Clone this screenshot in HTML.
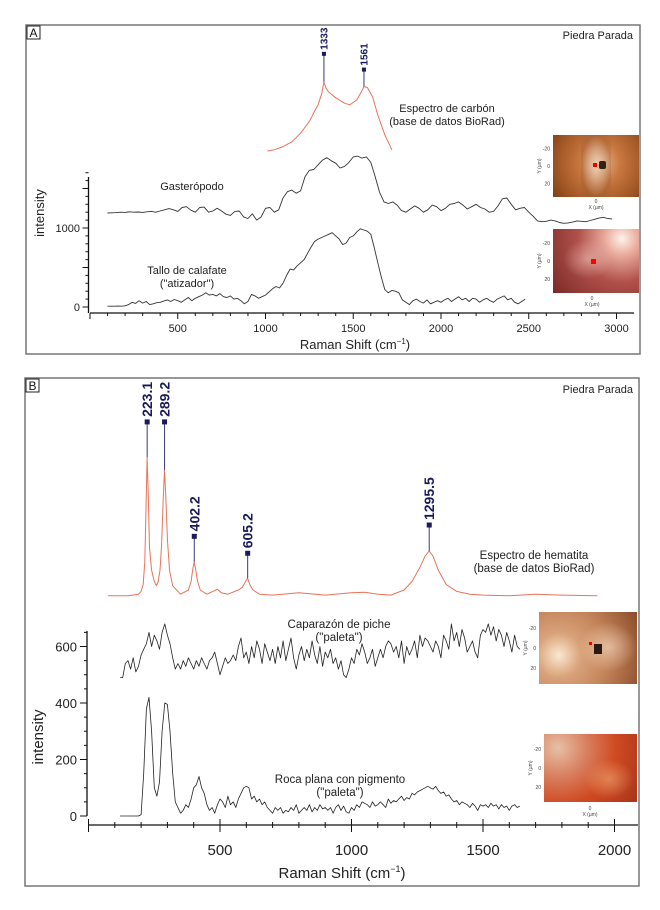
<!DOCTYPE html>
<html><head><meta charset="utf-8">
<style>
html,body{margin:0;padding:0;background:#fff;}
body{width:660px;height:910px;position:relative;overflow:hidden;font-family:"Liberation Sans",Arial,sans-serif;}
svg{position:absolute;left:0;top:0;}
.inset{position:absolute;overflow:hidden;}
</style></head>
<body>
<svg id="chart" width="660" height="910" viewBox="0 0 660 910" xmlns="http://www.w3.org/2000/svg"></svg>

<div class="inset" style="left:553px;top:135px;width:86px;height:62px;background:radial-gradient(circle at 55% 45%,#e8b48a 0,#c8773f 35%,#a55a28 70%,#7d4015 100%);"><div style="position:absolute;left:28px;top:0;width:30px;height:62px;background:radial-gradient(ellipse at center,rgba(240,215,190,.8),rgba(120,70,40,.2) 70%,transparent);"></div><div style="position:absolute;left:40px;top:28px;width:4px;height:4px;background:#e00;"></div><div style="position:absolute;left:46px;top:26px;width:7px;height:8px;background:#321;border-radius:2px;"></div></div>
<div class="inset" style="left:553px;top:229px;width:86px;height:64px;background:radial-gradient(circle at 80% 15%,#fff2e8 0,#e8a89a 20%,#b0504a 50%,#7a2a28 100%);"><div style="position:absolute;left:10px;top:10px;width:50px;height:40px;background:radial-gradient(ellipse,rgba(235,190,180,.6),transparent 70%);"></div><div style="position:absolute;left:38px;top:30px;width:5px;height:5px;background:#f00;"></div></div>
<div class="inset" style="left:539px;top:612px;width:98px;height:72px;background:radial-gradient(circle at 20% 60%,#fbe8d0 0,#d9a27a 25%,#c4845a 55%,#8a4d2a 100%);"><div style="position:absolute;left:40px;top:10px;width:58px;height:50px;background:radial-gradient(ellipse,rgba(240,210,185,.7),transparent 70%);"></div><div style="position:absolute;left:55px;top:32px;width:8px;height:10px;background:#2a1a12;"></div><div style="position:absolute;left:50px;top:30px;width:3px;height:3px;background:#e00;"></div></div>
<div class="inset" style="left:544px;top:734px;width:93px;height:68px;background:radial-gradient(circle at 15% 20%,#e7c0a6 0,#d88060 30%,#cf4a22 60%,#a8341a 100%);"><div style="position:absolute;left:40px;top:25px;width:50px;height:40px;background:radial-gradient(ellipse,rgba(240,170,120,.6),transparent 70%);"></div></div>

<script>
// ---------- Panel A data ----------
const aXTicks=[500,1000,1500,2000,2500,3000];
const aYTicks=[0,1000];
const carbonX=[1010,1050,1100,1150,1200,1250,1280,1300,1320,1333,1345,1360,1400,1450,1480,1520,1550,1561,1580,1610,1640,1680,1720];
const carbonY=[1975,1990,2030,2090,2200,2350,2480,2560,2700,2850,2770,2720,2650,2580,2560,2620,2740,2790,2780,2660,2430,2180,1990];
const carbonPeaks=[1333,1561];
const carbonPeakY=[2850,2790];
const gastStart=100, gastStep=25;
const gastY=[1190,1192,1195,1200,1198,1205,1200,1203,1198,1205,1210,1200,1215,
1230,1245,1230,1210,1260,1270,1225,1200,1260,1265,1200,1215,1250,1215,1175,1160,1210,1215,1140,1120,1180,1100,1140,1250,
1260,1200,1230,1380,1460,1480,1440,1470,1650,1730,1740,1800,1860,1890,1850,1820,1760,1780,1830,1900,1910,1885,1900,1830,1650,1450,1330,1310,
1330,1290,1220,1200,1240,1280,1250,1200,1230,1290,1270,1220,1250,1300,1310,1330,1290,1240,1270,1300,1260,1240,1200,1210,1280,1370,1380,1300,1230,1250,1260,1200,1150,1090,1080,1085,1100,1090,1070,1060,1065,1075,1090,1085,1080,1095,1110,1125,1135,1120,1115];
const talloStart=100, talloStep=20;
const talloY=[10,10,10,12,10,15,
30,60,45,80,50,70,30,40,55,60,
75,90,70,95,80,60,90,120,80,110,130,150,180,150,160,
140,170,130,120,140,100,110,80,40,70,160,140,110,130,
150,190,230,260,240,300,400,480,470,520,560,600,680,760,830,
860,880,900,920,940,900,860,790,810,880,900,950,990,975,960,
920,750,560,380,220,180,210,200,180,90,
60,30,80,100,70,50,90,40,60,80,60,90,110,70,100,130,90,110,70,110,100,60,90,110,80,60,100,120,140,90,110,60,40,70,100];

// ---------- Panel B data ----------
const bXTicks=[500,1000,1500,2000];
const bYTicks=[0,200,400,600];
const hemX=[75,150,190,200,208,214,219,223,227,232,240,250,258,265,272,278,284,289,294,300,308,320,350,380,390,396,402,408,415,425,450,480,490,505,530,570,585,597,605,613,625,650,700,800,900,1000,1050,1100,1150,1200,1230,1260,1280,1295,1310,1330,1360,1400,1450,1500,1600,1700,1800,1935];
const hemY=[780,780,785,795,820,900,1100,1270,1150,950,870,830,815,830,870,960,1120,1225,1130,980,870,815,785,800,830,870,900,870,830,800,785,798,803,790,785,800,810,830,842,820,800,785,782,790,782,790,792,785,782,800,830,880,920,938,920,870,820,795,785,782,780,785,782,780];
const hemPeaks=[223.1,289.2,402.2,605.2,1295.5];
const hemPeakY=[1270,1225,900,842,938];
const hemLabelTop=[1395,1395,990,930,1030];
const capStart=120, capStep=10;
const capY=[490,490,540,550,520,560,510,530,570,
590,610,650,600,640,620,590,650,680,640,610,560,520,
540,520,550,530,560,540,520,550,530,560,540,520,550,560,580,540,500,
530,560,540,550,570,550,600,630,560,580,540,600,560,620,590,540,610,580,550,590,
540,600,560,620,550,590,630,560,520,570,600,550,590,560,620,570,540,600,530,580,
560,590,540,560,520,550,500,490,520,560,540,590,570,610,580,540,560,590,530,560,
590,560,600,620,610,580,600,560,620,540,600,570,590,620,560,640,600,630,620,600,
580,620,600,560,640,620,590,680,620,650,600,660,630,580,600,620,580,560,640,660,
650,680,640,670,620,660,640,600,650,620,580,640,600,590];
const rocaStart=120, rocaStep=10;
const rocaY=[0,0,0,0,0,0,0,0,5,
150,380,420,300,100,70,120,300,400,395,300,150,50,
30,10,20,40,30,60,100,110,140,100,80,40,20,30,10,40,60,
50,30,70,40,50,30,60,80,100,105,100,60,70,50,60,40,50,30,20,10,
30,20,30,10,20,15,30,20,40,10,20,30,20,40,15,30,20,40,25,30,
20,30,10,30,40,20,35,15,10,30,20,40,30,50,45,40,30,50,35,40,
50,40,30,60,45,55,50,60,70,55,65,60,80,75,85,90,95,100,105,100,
95,105,90,80,85,70,75,60,50,55,40,50,45,40,30,45,35,20,40,35,
40,30,45,35,40,25,40,30,35,20,35,40,30,35];

const NS='http://www.w3.org/2000/svg';
const svg=document.getElementById('chart');
function mk(tag,attrs,parent){const e=document.createElementNS(NS,tag);for(const k in attrs)e.setAttribute(k,attrs[k]);(parent||svg).appendChild(e);return e;}
function txt(s,attrs,parent){const e=mk('text',attrs,parent);e.textContent=s;return e;}

const axA={x:v=>90+v*0.1755,y:v=>307-v*0.079};
const axB={x:v=>88.5+v*0.263,y:v=>816-v*0.2825};

const frameA=mk('rect',{x:26,y:25,width:614,height:329,fill:'none',stroke:'#777','stroke-width':1.5});


const frameB=mk('rect',{x:25,y:378,width:614,height:508,fill:'none',stroke:'#777','stroke-width':1.5});



function panelLabel(l,x,y,name){
  const g=mk('g',{});
  
  
  mk('rect',{x:x,y:y,width:13,height:13,fill:'#fff',stroke:'#222','stroke-width':1},g);
  txt(l,{x:x+6.5,y:y+11,'font-size':12,'text-anchor':'middle',fill:'#111'},g);
}
panelLabel('A',27,26,'panel-a-label');
panelLabel('B',26,379,'panel-b-label');

function label(s,x,y,size,name,anchor){
  const t=txt(s,{x:x,y:y,'font-size':size,'text-anchor':anchor||'middle',fill:'#222'});
  
  
  return t;
}
label('Piedra Parada',633,39,11,'panel-a-site-label','end');
label('Piedra Parada',633,393,11,'panel-b-site-label','end');

function poly(xs,ys,ax,color,name,w){
  const pts=xs.map((v,i)=>ax.x(v).toFixed(1)+','+ax.y(ys[i]).toFixed(1)).join(' ');
  const p=mk('polyline',{points:pts,fill:'none',stroke:color,'stroke-width':w||0.9,'stroke-linejoin':'round'});
  
  
  return p;
}
function gridX(start,step,n){const a=[];for(let i=0;i<n;i++)a.push(start+i*step);return a;}

// ---------- Axes A ----------
(function(){
  const g=mk('g',{stroke:'#111','stroke-width':1});
  
  
  mk('line',{x1:axA.x(0),y1:313,x2:634,y2:313,'stroke-width':1.3},g);
  mk('line',{x1:88.5,y1:177,x2:88.5,y2:313,'stroke-width':1.3},g);
  for(let v=0;v<=3200;v+=100){const x=axA.x(v);if(x>634)break;const maj=v%500===0;mk('line',{x1:x,y1:313,x2:x,y2:313+(maj?6:3)},g);}
  for(let v=0;v<=1700;v+=100){const y=axA.y(v);const maj=v%500===0;mk('line',{x1:88.5,y1:y,x2:88.5-(maj?6:3),y2:y},g);}
  aXTicks.forEach(v=>{label(String(v),axA.x(v),332,11,'panel-a-x-tick-label');});
  aYTicks.forEach(v=>{label(String(v),80,axA.y(v)+4,11,'panel-a-y-tick-label','end');});
  const yt=label('intensity',44,213,13,'panel-a-y-axis-title');yt.setAttribute('transform','rotate(-90 44 213)');
  const xt=label('',355,349,13,'panel-a-x-axis-title');xt.innerHTML='Raman Shift (cm<tspan dy="-5" font-size="8">−1</tspan><tspan dy="5">)</tspan>';
})();

poly(carbonX,carbonY,axA,'#e8735a','carbon-reference-spectrum',1);
poly(gridX(gastStart,gastStep,gastY.length),gastY,axA,'#333','gasteropodo-spectrum',0.9);
poly(gridX(talloStart,talloStep,talloY.length),talloY,axA,'#333','tallo-calafate-spectrum',0.9);
carbonPeaks.forEach((p,i)=>{
  const g=mk('g',{});
  
  
  const x=axA.x(p),y0=axA.y(carbonPeakY[i]),y1=axA.y(carbonPeakY[i])-(i===0?28:17);
  mk('line',{x1:x,y1:y0,x2:x,y2:y1,stroke:'#3a3a7a','stroke-width':1},g);
  mk('rect',{x:x-2,y:y1-2,width:4,height:4,fill:'#1a1a5a'},g);
  txt(String(p),{x:x+3.5,y:y1-4,'font-size':10,'font-weight':'bold',fill:'#1a1a5a',transform:`rotate(-90 ${x+3.5} ${y1-4})`},g);
});
label('Espectro de carbón',447,112,11,'carbon-label');
label('(base de datos BioRad)',447,125,11,'carbon-label-source');
label('Gasterópodo',192,190,11,'gasteropodo-label');
label('Tallo de calafate',187,274,11,'tallo-label');
label('("atizador")',187,287,11,'tallo-label-sub');

// ---------- Axes B ----------
(function(){
  const g=mk('g',{stroke:'#111','stroke-width':1});
  
  
  mk('line',{x1:88.5,y1:825,x2:638,y2:825,'stroke-width':1.3},g);
  mk('line',{x1:87,y1:631,x2:87,y2:816,'stroke-width':1.3},g);
  for(let v=0;v<=2100;v+=100){const x=axB.x(v);if(x>639)break;const maj=v%500===0;mk('line',{x1:x,y1:(maj?819:822),x2:x,y2:(maj?832:828)},g);}
  for(let v=0;v<=650;v+=50){const y=axB.y(v);const maj=v%200===0;mk('line',{x1:87,y1:y,x2:87-(maj?7:3),y2:y},g);}
  bXTicks.forEach(v=>{label(String(v),axB.x(v),855,15,'panel-b-x-tick-label');});
  bYTicks.forEach(v=>{label(String(v),77,axB.y(v)+5,13,'panel-b-y-tick-label','end');});
  const yt=label('intensity',43,737,15,'panel-b-y-axis-title');yt.setAttribute('transform','rotate(-90 43 737)');
  const xt=label('',342,878,15,'panel-b-x-axis-title');xt.innerHTML='Raman Shift (cm<tspan dy="-6" font-size="9">−1</tspan><tspan dy="6">)</tspan>';
})();

poly(hemX,hemY,axB,'#e8735a','hematite-reference-spectrum',1);
poly(gridX(capStart,capStep,capY.length),capY,axB,'#222','caparazon-piche-spectrum',0.8);
poly(gridX(rocaStart,rocaStep,rocaY.length),rocaY,axB,'#222','roca-plana-spectrum',0.8);
hemPeaks.forEach((p,i)=>{
  const g=mk('g',{});
  
  
  const x=axB.x(p),y0=axB.y(hemPeakY[i]),y1=axB.y(hemLabelTop[i]);
  mk('line',{x1:x,y1:y0,x2:x,y2:y1,stroke:'#3a3a7a','stroke-width':1},g);
  mk('rect',{x:x-2.5,y:y1-2.5,width:5,height:5,fill:'#1a1a5a'},g);
  txt(String(p),{x:x+5,y:y1-5,'font-size':14,'font-weight':'bold',fill:'#1a1a5a',transform:`rotate(-90 ${x+5} ${y1-5})`},g);
});
label('Espectro de hematita',534,559,11.5,'hematite-label');
label('(base de datos BioRad)',534,572,11.5,'hematite-label-source');
label('Caparazón de piche',339,628,11.5,'caparazon-label');
label('("paleta")',339,641,11.5,'caparazon-label-sub');
label('Roca plana con pigmento',340,783,11.5,'roca-label');
label('("paleta")',340,796,11.5,'roca-label-sub');

function insetAxes(x,yTop,h,labels,xl,yl,name){
  const g=mk('g',{'font-size':5,fill:'#444'});
  
  
  labels.forEach((s,i)=>{txt(s,{x:x-3,y:yTop+h*(0.22+0.28*i)+2,'text-anchor':'end'},g);});
  if(xl!==null){
    txt('0',{x:xl,y:yl,'text-anchor':'middle'},g);
    txt('X (µm)',{x:xl,y:yl+6,'text-anchor':'middle'},g);
  }
  txt('Y (µm)',{x:x-12,y:yTop+h/2,'text-anchor':'middle',transform:`rotate(-90 ${x-12} ${yTop+h/2})`},g);
}
insetAxes(553,135,62,['-20','0','20'],596,203,'inset-a1-axes');
insetAxes(553,229,64,['-20','0','20'],592,300,'inset-a2-axes');
insetAxes(539,612,72,['-20','0','20'],null,0,'inset-b1-axes');
insetAxes(544,734,68,['-20','0','20'],590,810,'inset-b2-axes');
</script>
</body></html>
